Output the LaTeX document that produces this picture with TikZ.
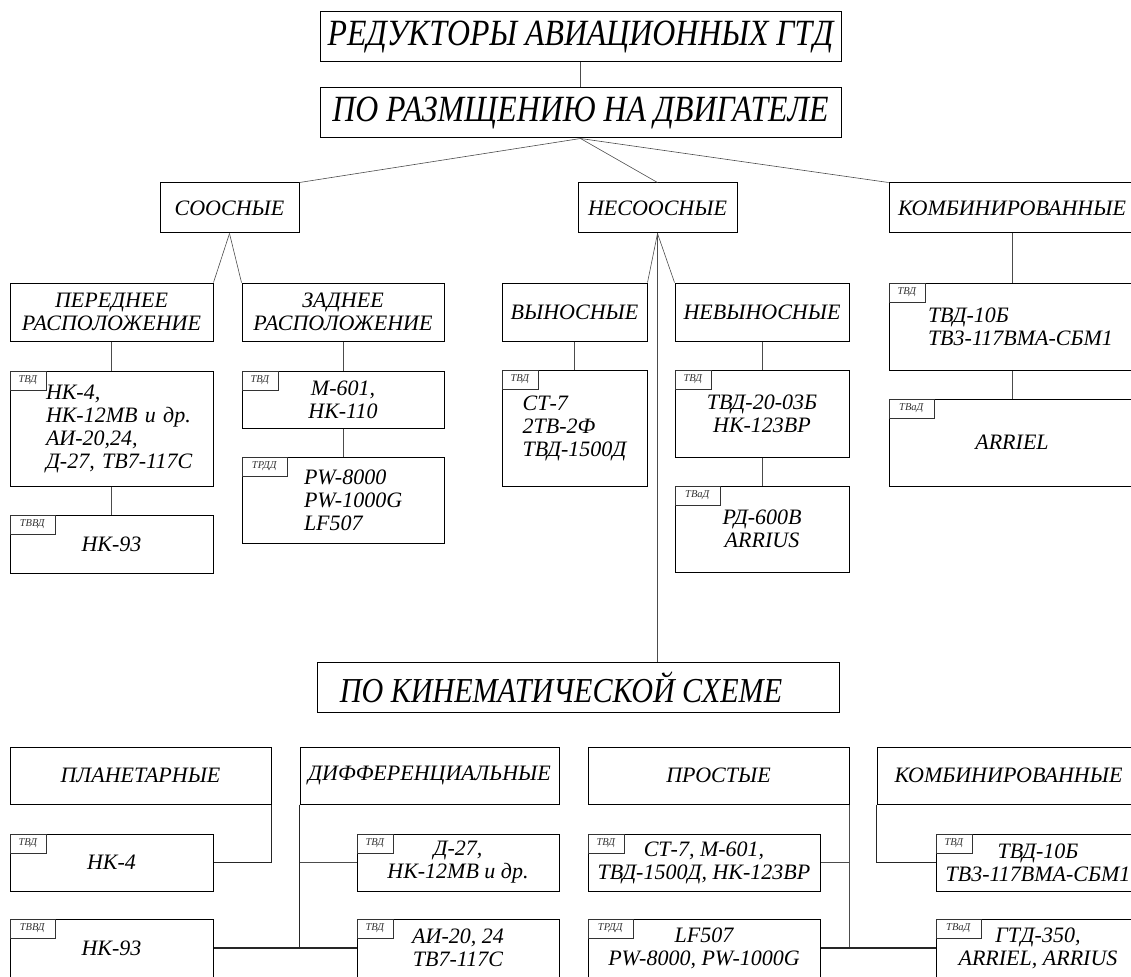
\documentclass[tikz,border=0pt]{standalone}
\usepackage{fontspec}
\setmainfont{Liberation Serif}
\newfontfamily\titlefont[FakeStretch=0.86]{Liberation Serif}

\tikzset{
  box/.style={draw, line width=1pt, inner sep=2pt, align=center,
    font=\itshape\fontsize{22}{23}\selectfont},
  bigbox/.style={box, font=\titlefont\itshape\fontsize{37}{40}\selectfont},
  tag/.style={draw, black!80, line width=0.5pt, anchor=north west, inner sep=1pt,
    minimum width=36, minimum height=19, font=\itshape\fontsize{10.5}{10.5}\selectfont},
  tagwide/.style={tag, minimum width=45},
  link/.style={line width=0.6pt, black!70},
  bus/.style={line width=1.2pt, black!85}
}

\begin{document}
\begin{tikzpicture}[x=1pt, y=-1pt]
            \useasboundingbox (0,0) rectangle (1131,976);
            \clip (0,0) rectangle (1131,976);

            % Root node
            \node[bigbox, minimum width=521, minimum height=50] (root) at (580.5,37) {РЕДУКТОРЫ АВИАЦИОННЫХ ГТД};

            % Placement on the engine
            \node[bigbox, minimum width=521, minimum height=50] (place) at (580.5,113) {ПО РАЗМЩЕНИЮ НА ДВИГАТЕЛЕ};
            \draw[link] (root) -- (place);

            % Third stage nodes
            \node[box, minimum width=139, minimum height=50] (coax) at (229.5,208) {СООСНЫЕ};
            \node[box, minimum width=159, minimum height=50] (noncoax) at (657.5,208) {НЕСООСНЫЕ};
            \node[box, minimum width=246, minimum height=50] (combA) at (1012,208) {КОМБИНИРОВАННЫЕ};
            \draw[link] (place.south) -- (coax.north east);
            \draw[link] (place.south) -- (noncoax.north);
            \draw[link] (place.south) -- (combA.north west);

            % Fourth stage nodes
            \node[box, minimum width=203, minimum height=58] (front) at (111.5,312) {ПЕРЕДНЕЕ\\РАСПОЛОЖЕНИЕ};
            \node[box, minimum width=202, minimum height=58] (rear) at (343,312) {ЗАДНЕЕ\\РАСПОЛОЖЕНИЕ};
            \node[box, minimum width=145, minimum height=58] (remote) at (574.5,312) {ВЫНОСНЫЕ};
            \node[box, minimum width=174, minimum height=58] (inner) at (762,312) {НЕВЫНОСНЫЕ};
            \node[box, minimum height=87, text width=242, align=left] (combAtvd) at (1012,326.5) {\leftskip=37pt ТВД-10Б\\ТВ3-117ВМА-СБМ1\par};
            \draw[link] (coax.south) -- (front.north east);
            \draw[link] (coax.south) -- (rear.north west);
            \draw[link] (noncoax.south) -- (remote.north east);
            \draw[link] (noncoax.south) -- (inner.north west);
            \draw[link] (combA) -- (combAtvd);

            % Fifth stage nodes
            \node[box, minimum height=115, text width=199, align=left] (fronttvd) at (111.5,428.5) {\leftskip=34pt НК-4,\\НК-12МВ и др.\\АИ-20,24,\\Д-27, ТВ7-117С\par};
            \node[box, minimum width=202, minimum height=57] (reartvd) at (343,399.5) {М-601,\\НК-110};
            \node[box, minimum width=145, minimum height=116, align=left] (remotetvd) at (574.5,428) {СТ-7\\2ТВ-2Ф\\ТВД-1500Д};
            \node[box, minimum width=174, minimum height=87] (innertvd) at (762,413.5) {ТВД-20-03Б\\НК-123ВР};
            \node[box, minimum width=246, minimum height=87] (combAtvad) at (1012,442.5) {ARRIEL};
            \draw[link] (front) -- (fronttvd);
            \draw[link] (rear) -- (reartvd);
            \draw[link] (remote) -- (remotetvd);
            \draw[link] (inner) -- (innertvd);
            \draw[link] (combAtvd) -- (combAtvad);

            % Sixth stage nodes
            \node[box, minimum width=203, minimum height=58] (fronttvvd) at (111.5,544) {НК-93};
            \node[box, minimum height=86, text width=198, align=left] (reartrdd) at (343,500) {\leftskip=60pt PW-8000\\PW-1000G\\LF507\par};
            \node[box, minimum width=174, minimum height=86] (innertvad) at (762,529) {РД-600В\\ARRIUS};
            \draw[link] (fronttvd) -- (fronttvvd);
            \draw[link] (reartvd) -- (reartrdd);
            \draw[link] (innertvd) -- (innertvad);

            % Engine type tags
            \node[tag] (fronttvd-t) at (fronttvd.north west) {ТВД};
            \node[tag] (reartvd-t) at (reartvd.north west) {ТВД};
            \node[tag] (remotetvd-t) at (remotetvd.north west) {ТВД};
            \node[tag] (innertvd-t) at (innertvd.north west) {ТВД};
            \node[tag] (combAtvd-t) at (combAtvd.north west) {ТВД};
            \node[tagwide] (combAtvad-t) at (combAtvad.north west) {ТВаД};
            \node[tagwide] (fronttvvd-t) at (fronttvvd.north west) {ТВВД};
            \node[tagwide] (reartrdd-t) at (reartrdd.north west) {ТРДД};
            \node[tagwide] (innertvad-t) at (innertvad.north west) {ТВаД};

            % Kinematic scheme
            \node[bigbox, font=\titlefont\itshape\fontsize{35}{38}\selectfont, minimum width=522, minimum height=50] (kinem) at (578,687) {ПО КИНЕМАТИЧЕСКОЙ СХЕМЕ\hspace*{34pt}};
            \draw[link] (noncoax.south) -- (noncoax.south |- kinem.north);

            % Kinematic groups
            \node[box, minimum width=261, minimum height=57] (planet) at (140.5,775.5) {ПЛАНЕТАРНЫЕ};
            \node[box, minimum width=259, minimum height=57] (diff) at (429.5,775.5) {ДИФФЕРЕНЦИАЛЬНЫЕ};
            \node[box, minimum width=261, minimum height=57] (simple) at (718.5,775.5) {ПРОСТЫЕ};
            \node[box, minimum width=263, minimum height=57] (combB) at (1008.5,775.5) {КОМБИНИРОВАННЫЕ};

            % Kinematic examples, first row
            \node[box, minimum width=203, minimum height=57] (planettvd) at (111.5,862.5) {НК-4};
            \node[box, minimum width=202, minimum height=57] (difftvd) at (458,862.5) {Д-27,\\НК-12МВ и др.};
            \node[box, minimum width=232, minimum height=57] (simpletvd) at (704,862.5) {СТ-7, М-601,\\ТВД-1500Д, НК-123ВР};
            \node[box, minimum width=204, minimum height=57] (combBtvd) at (1038,862.5) {ТВД-10Б\\ТВ3-117ВМА-СБМ1};

            % Kinematic examples, second row
            \node[box, minimum width=203, minimum height=58] (planettvvd) at (111.5,948) {НК-93};
            \node[box, minimum width=202, minimum height=58] (difftvdb) at (458,948) {АИ-20, 24\\ТВ7-117С};
            \node[box, minimum width=232, minimum height=58] (simpletrdd) at (704,948) {LF507\\PW-8000, PW-1000G};
            \node[box, minimum width=204, minimum height=58] (combBtvad) at (1038,948) {ГТД-350,\\ARRIEL, ARRIUS};

            \node[tag] (planettvd-t) at (planettvd.north west) {ТВД};
            \node[tag] (difftvd-t) at (difftvd.north west) {ТВД};
            \node[tag] (simpletvd-t) at (simpletvd.north west) {ТВД};
            \node[tag] (combBtvd-t) at (combBtvd.north west) {ТВД};
            \node[tagwide] (planettvvd-t) at (planettvvd.north west) {ТВВД};
            \node[tag] (difftvdb-t) at (difftvdb.north west) {ТВД};
            \node[tagwide] (simpletrdd-t) at (simpletrdd.north west) {ТРДД};
            \node[tagwide] (combBtvad-t) at (combBtvad.north west) {ТВаД};

            \draw[bus] (planet.south east) |- (planettvd.east);
            \draw[link] (diff.south west) |- (difftvd.west);
            \draw[bus] (diff.south west) -- (diff.south west |- difftvdb.west);
            \draw[bus] (planettvvd.east) -- (difftvdb.west);
            \draw[link] (simple.south east) |- (simpletvd.east);
            \draw[link] (simple.south east) -- (simple.south east |- simpletrdd.east);
            \draw[bus] (simpletrdd.east) -- (combBtvad.west);
            \draw[bus] (combB.south west) |- (combBtvd.west);
        \end{tikzpicture}
\end{document}
